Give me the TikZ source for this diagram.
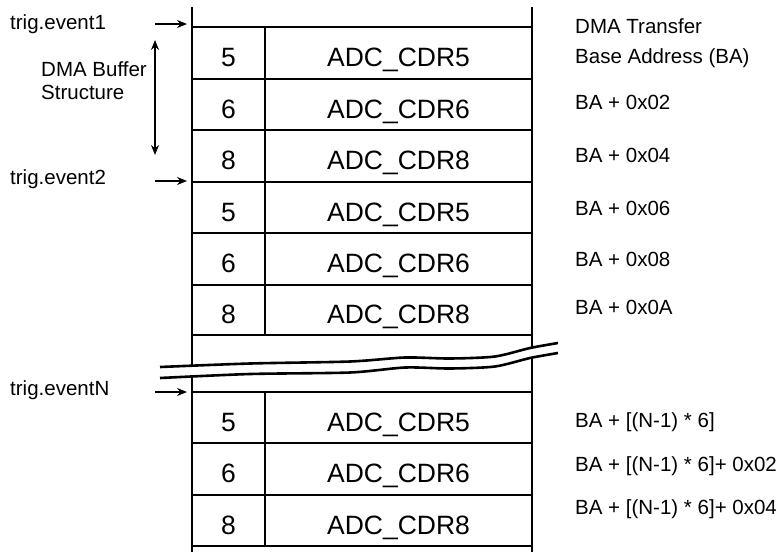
\documentclass[tikz,border=0pt]{standalone}
\usepackage{fontspec}
\setmainfont{Liberation Sans}
\usetikzlibrary{arrows.meta}
\begin{document}
\begin{tikzpicture}[x=1pt,y=-1pt,
  gridline/.style={line width=2pt},
  outer/.style={line width=2.8pt},
  divider/.style={line width=1.3pt},
  cell/.style={font=\fontsize{26.5}{30}\selectfont, anchor=base, inner sep=0pt},
  lbl/.style={font=\fontsize{20.5}{24}\selectfont, anchor=base west, inner sep=0pt},
  arr/.style={line width=1.4pt, -{Stealth[length=10pt,width=8pt]}},
  darr/.style={line width=1.4pt, {Stealth[length=10pt,width=8pt]}-{Stealth[length=10pt,width=8pt]}},
  brk/.style={line width=2.6pt}]
\useasboundingbox (0,0) rectangle (783,552);

% outer walls
\coordinate (LT) at (192,7);
\coordinate (LB) at (192,552);
\coordinate (RT) at (532,7);
\coordinate (RB) at (532,552);
\draw[outer] (LT) -- (LB);
\draw[outer] (RT) -- (RB);

% horizontal lines
\foreach \y in {27,78.5,130,181.5,233,284.5,335,392,443,494.5,546}
  \draw[gridline] (192,\y) -- (532,\y);
% dividers
\draw[divider] (265,27) -- (265,335);
\draw[divider] (265,392) -- (265,546);

% cells
\foreach \n/\y/\v in {a1/78.5/5, a2/130/6, a3/181.5/8, a4/233/5, a5/284.5/6, a6/335/8, b1/443/5, b2/494.5/6, b3/546/8}{
  \node[cell] (num\n) at (228.5,\y-12) {\v};
  \node[cell] (cdr\n) at (398.5,\y-12) {ADC\_CDR\v};
}

% break
\fill[white] plot[smooth, tension=0.45] coordinates {(160,367) (250,363.5) (350,361.5) (405,357.5) (450,358.5) (495,356.5) (530,348) (558,343)}
  -- plot[smooth, tension=0.45] coordinates {(558,353) (530,358) (495,366.5) (450,368.5) (405,367.5) (350,372.5) (250,374) (160,378)} -- cycle;
\draw[brk] plot[smooth, tension=0.45] coordinates {(160,367) (250,363.5) (350,361.5) (405,357.5) (450,358.5) (495,356.5) (530,348) (558,343)};
\draw[brk] plot[smooth, tension=0.45] coordinates {(160,378) (250,374) (350,372.5) (405,367.5) (450,368.5) (495,366.5) (530,358) (558,353)};

% left labels and arrows
\node[lbl] (ev1) at (10,29) {trig.event1};
\node[lbl] (ev2) at (10,184) {trig.event2};
\node[lbl] (evN) at (10,395) {trig.eventN};
\coordinate (e1s) at (155,24);  \coordinate (e1t) at (187,24);
\coordinate (e2s) at (155,181); \coordinate (e2t) at (187,181);
\coordinate (eNs) at (155,392); \coordinate (eNt) at (187,392);
\draw[arr] (e1s) -- (e1t);
\draw[arr] (e2s) -- (e2t);
\draw[arr] (eNs) -- (eNt);

\node[lbl] (dma1) at (41,76) {DMA Buffer};
\node[lbl] (dma2) at (41,99.5) {Structure};
\coordinate (dTop) at (155,40);
\coordinate (dBot) at (155,155);
\draw[darr] (dTop) -- (dBot);

% right labels
\node[lbl] (r0a) at (575,33.5) {DMA Transfer};
\node[lbl] (r0b) at (575,63.5) {Base Address (BA)};
\node[lbl] (r1) at (575,109.5) {BA + 0x02};
\node[lbl] (r2) at (575,162) {BA + 0x04};
\node[lbl] (r3) at (575,215) {BA + 0x06};
\node[lbl] (r4) at (575,266) {BA + 0x08};
\node[lbl] (r5) at (575,314.5) {BA + 0x0A};
\node[lbl] (r6) at (575,427.5) {BA + [(N-1) * 6]};
\node[lbl] (r7) at (575,471) {BA + [(N-1) * 6]+ 0x02};
\node[lbl] (r8) at (575,514) {BA + [(N-1) * 6]+ 0x04};
\end{tikzpicture}
\end{document}
